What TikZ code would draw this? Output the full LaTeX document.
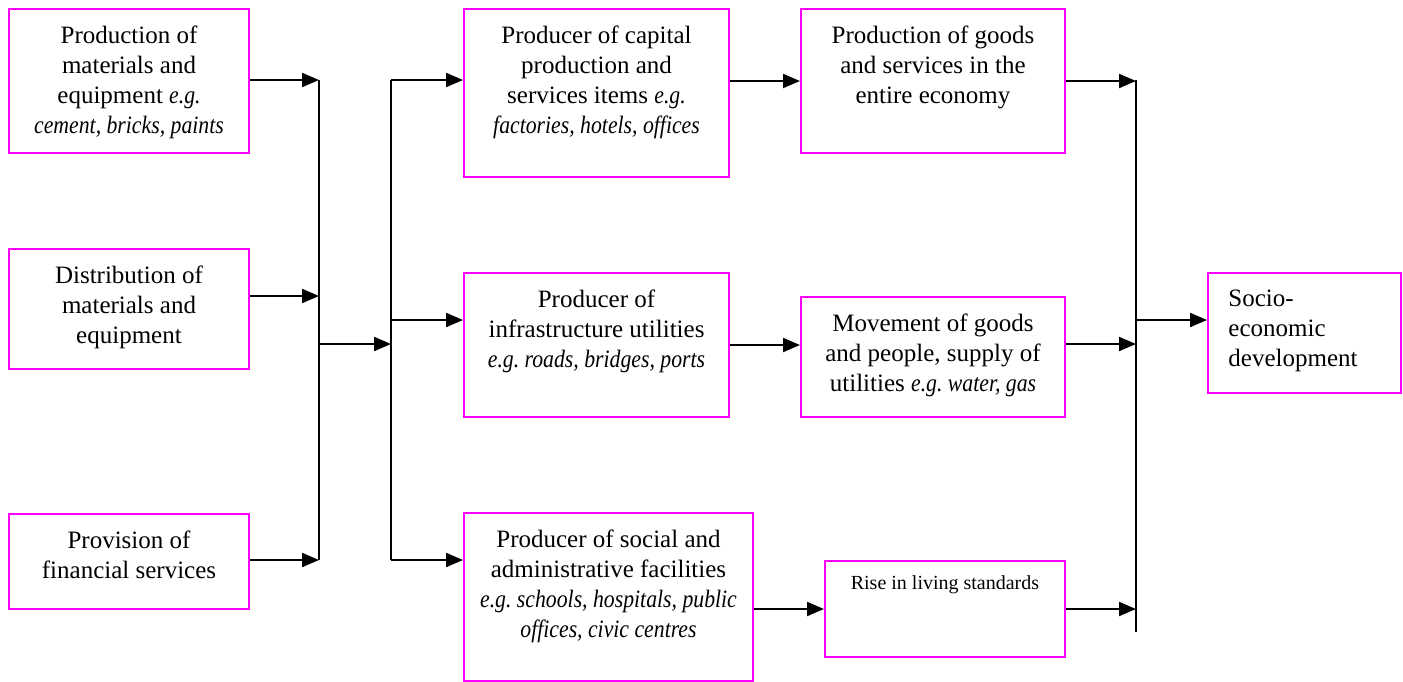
\documentclass[tikz,border=0pt]{standalone}
\usepackage{fontspec}
\setmainfont{Liberation Serif}[ItalicFeatures={FakeStretch=0.87}]
\usetikzlibrary{arrows.meta,positioning}

\definecolor{boxpink}{RGB}{255,0,255}
\tikzset{
  box/.style={draw=boxpink, line width=1pt, inner sep=0pt, anchor=north west},
  txt/.style={align=center, inner sep=0pt, font=\fontsize{12.5}{15}\selectfont},
  arr/.style={line width=1pt, -{Triangle[length=8.5pt,width=7pt]}},
  bus/.style={line width=1pt}
}
\frenchspacing

\begin{document}
\begin{tikzpicture}[x=0.5pt,y=-0.5pt]
\useasboundingbox (0,0) rectangle (1403,681);

% inputs
\node[box, minimum width=120pt, minimum height=72pt] (a1) at (8,8) {};
\node[txt, below=8.5pt of a1.north] (a1t) {Production of\\materials and\\equipment \textit{e.g.}\\\textit{cement, bricks, paints}};
\node[box, minimum width=120pt, minimum height=60pt] (a2) at (8,248) {};
\node[txt, below=8.5pt of a2.north] (a2t) {Distribution of\\materials and\\equipment};
\node[box, minimum width=120pt, minimum height=47.5pt] (a3) at (8,513) {};
\node[txt, below=8.5pt of a3.north] (a3t) {Provision of\\financial services};

% producers
\node[box, minimum width=132.5pt, minimum height=84pt] (b1) at (463,8) {};
\node[txt, below=8.5pt of b1.north] (b1t) {Producer of capital\\production and\\services items \textit{e.g.}\\\textit{factories, hotels, offices}};
\node[box, minimum width=132.5pt, minimum height=72pt] (b2) at (463,272) {};
\node[txt, below=8.5pt of b2.north] (b2t) {Producer of\\infrastructure utilities\\\textit{e.g. roads, bridges, ports}};
\node[box, minimum width=144.5pt, minimum height=84pt] (b3) at (463,512) {};
\node[txt, below=8.5pt of b3.north] (b3t) {Producer of social and\\administrative facilities\\\textit{e.g. schools, hospitals, public}\\\textit{offices, civic centres}};

% outcomes
\node[box, minimum width=132pt, minimum height=72pt] (c1) at (800,8) {};
\node[txt, below=8.5pt of c1.north] (c1t) {Production of goods\\and services in the\\entire economy};
\node[box, minimum width=132pt, minimum height=60pt] (c2) at (800,296) {};
\node[txt, below=8.5pt of c2.north] (c2t) {Movement of goods\\and people, supply of\\utilities \textit{e.g. water, gas}};
\node[box, minimum width=120pt, minimum height=48pt] (c3) at (824,560) {};
\node[txt, font=\fontsize{10}{12}\selectfont, below=7.5pt of c3.north] (c3t) {Rise in living standards};

\node[box, minimum width=96.5pt, minimum height=60pt] (so) at (1207,272) {};
\node[txt, align=left, anchor=north west, below right=9pt and 10.5pt of so.north west] (sot) {Socio-\\economic\\development};

% bus lines
\coordinate (l1) at (319,80);
\coordinate (l2) at (319,296);
\coordinate (l3) at (319,560);
\coordinate (lm) at (319,344);
\coordinate (r1) at (391,80);
\coordinate (r2) at (391,320);
\coordinate (r3) at (391,560);
\coordinate (k1) at (1136,80);
\coordinate (k2) at (1136,344);
\coordinate (kt) at (1136,632);
\coordinate (km) at (1136,320);

\draw[bus] (l1) -- (l3);
\draw[arr] (a1.east |- l1) -- (l1);
\draw[arr] (a2.east |- l2) -- (l2);
\draw[arr] (a3.east |- l3) -- (l3);
\draw[arr] (lm) -- (lm -| r1);

\draw[bus] (r1) -- (r3);
\draw[arr] (r1) -- (r1 -| b1.west);
\draw[arr] (r2) -- (r2 -| b2.west);
\draw[arr] (r3) -- (r3 -| b3.west);

\draw[arr] (b1.east |- c1.west) -- (c1.west);
\draw[arr] (b2.east) -- (b2.east -| c2.west);
\draw[arr] (b3.east |- c3.west) -- (c3.west);

\draw[bus] (k1) -- (kt);
\draw[arr] (c1.east) -- (c1.east -| k1);
\draw[arr] (c2.east |- k2) -- (k2);
\draw[arr] (c3.east) -- (c3.east -| k1);
\draw[arr] (km) -- (km -| so.west);
\end{tikzpicture}
\end{document}
